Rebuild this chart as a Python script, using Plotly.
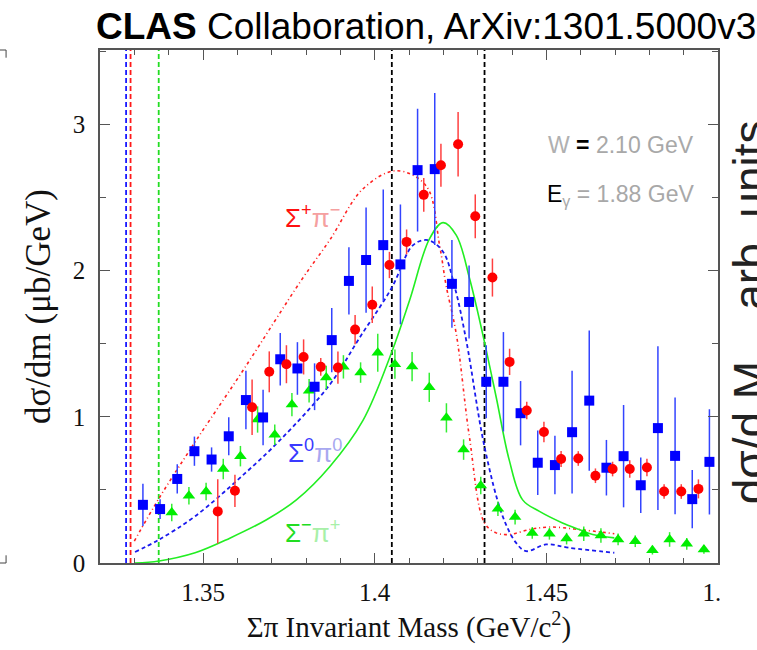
import plotly.graph_objects as go

# ---------------- data ----------------
blue_x = [1.3325, 1.3375, 1.3425, 1.3475, 1.3525, 1.3575, 1.3625, 1.3675, 1.3725, 1.3775,
          1.3825, 1.3875, 1.3925, 1.3975, 1.4025, 1.4075, 1.4125, 1.4175, 1.4225, 1.4275,
          1.4325, 1.4375, 1.4425, 1.4475, 1.4525, 1.4575, 1.4625, 1.4675, 1.4725, 1.4775,
          1.4825, 1.4875, 1.4925, 1.4975]
blue_y = [0.398, 0.369, 0.575, 0.765, 0.708, 0.867, 1.115, 0.996, 1.394, 1.331,
          1.206, 1.525, 1.93, 2.073, 2.175, 2.043, 2.688, 2.695, 1.91, 1.786,
          1.24, 1.24, 1.025, 0.686, 0.67, 0.895, 1.111, 0.652, 0.731, 0.532,
          0.923, 0.733, 0.437, 0.692]
blue_err = [0.145, 0.068, 0.10, 0.10, 0.083, 0.13, 0.20, 0.19, 0.18, 0.18,
            0.16, 0.22, 0.23, 0.36, 0.38, 0.41, 0.42, 0.52, 0.30, 0.25,
            0.25, 0.34, 0.22, 0.22, 0.20, 0.42, 0.48, 0.19, 0.35, 0.19,
            0.56, 0.40, 0.20, 0.36]

red_x = [1.3543, 1.3593, 1.3643, 1.3693, 1.3743, 1.3793, 1.3843, 1.3893, 1.3943, 1.3993,
         1.4043, 1.4093, 1.4143, 1.4193, 1.4243, 1.4293, 1.4343, 1.4393, 1.4443, 1.4493,
         1.4543, 1.4593, 1.4643, 1.4693, 1.4743, 1.4793, 1.4843, 1.4893, 1.4943]
red_y = [0.353, 0.494, 1.066, 1.308, 1.36, 1.41, 1.342, 1.337, 1.597, 1.767,
         2.039, 2.197, 2.519, 2.722, 2.865, 2.372, 1.953, 1.376, 1.043, 0.896,
         0.712, 0.715, 0.597, 0.643, 0.643, 0.654, 0.489, 0.489, 0.507]
red_err = [0.22, 0.11, 0.19, 0.14, 0.13, 0.12, 0.06, 0.11, 0.10, 0.125,
           0.09, 0.085, 0.115, 0.147, 0.22, 0.15, 0.13, 0.09, 0.06, 0.07,
           0.055, 0.05, 0.05, 0.05, 0.06, 0.06, 0.05, 0.05, 0.065]

green_x = [1.3409, 1.3459, 1.3509, 1.3559, 1.3609, 1.3659, 1.3709, 1.3759, 1.3809, 1.3859,
           1.3909, 1.3959, 1.4009, 1.4059, 1.4109, 1.4159, 1.4209, 1.4259, 1.4309, 1.4359,
           1.4409, 1.4459, 1.4509, 1.4559, 1.4609, 1.4659, 1.4709, 1.4759, 1.4809, 1.4859,
           1.4909, 1.4959]
green_y = [0.346, 0.46, 0.489, 0.643, 0.731, 0.982, 0.878, 1.084, 1.179, 1.27,
           1.342, 1.303, 1.439, 1.36, 1.344, 1.202, 0.993, 0.776, 0.53, 0.371,
           0.314, 0.206, 0.2, 0.167, 0.2, 0.188, 0.161, 0.149, 0.088, 0.161,
           0.131, 0.093]
green_err = [0.06, 0.06, 0.06, 0.07, 0.07, 0.09, 0.07, 0.08, 0.08, 0.08,
             0.08, 0.07, 0.13, 0.10, 0.10, 0.10, 0.10, 0.07, 0.06, 0.05,
             0.05, 0.04, 0.04, 0.04, 0.05, 0.05, 0.04, 0.04, 0.03, 0.05,
             0.04, 0.03]

# model curves
red_curve_x = [1.3300, 1.3372, 1.3477, 1.3622, 1.3787, 1.3869, 1.3966, 1.4063, 1.4150, 1.4189,
               1.4208, 1.4238, 1.4276, 1.4320, 1.4354, 1.4392, 1.4451, 1.4509, 1.4596, 1.4698]
red_curve_y = [0.15, 0.443, 0.828, 1.337, 1.937, 2.209, 2.56, 2.684, 2.58, 2.175,
               1.90, 1.563, 0.862, 0.274, 0.206, 0.195, 0.229, 0.246, 0.229, 0.20]

blue_curve_x = [1.3302, 1.3372, 1.3477, 1.3622, 1.3724, 1.3869, 1.3956, 1.4049, 1.4112, 1.4155,
                1.4199, 1.4233, 1.4267, 1.4320, 1.4373, 1.4412, 1.4441, 1.4499, 1.4567, 1.4698]
blue_curve_y = [0.075, 0.16, 0.32, 0.613, 0.84, 1.22, 1.541, 1.88, 2.175, 2.209,
                2.13, 1.89, 1.519, 0.794, 0.319, 0.138, 0.081, 0.127, 0.104, 0.07]

green_curve_x = [1.3302, 1.3372, 1.3477, 1.3578, 1.3685, 1.3772, 1.3869, 1.3966, 1.4049, 1.4102,
                 1.4160, 1.4199, 1.4238, 1.4276, 1.4315, 1.4354, 1.4392, 1.4431, 1.4480, 1.4547,
                 1.4596, 1.4635, 1.4698]
green_curve_y = [0.0, 0.014, 0.07, 0.17, 0.296, 0.432, 0.659, 0.976, 1.439, 1.80,
                 2.22, 2.329, 2.242, 1.95, 1.563, 1.134, 0.704, 0.432, 0.353, 0.274,
                 0.229, 0.195, 0.172]

thresholds_x = [1.3276, 1.3289, 1.3371]
threshold_colors = ["#1a1aff", "#ff1a1a", "#22dd22"]
cut_lines_x = [1.405, 1.432]

x_tickvals = [1.35, 1.40, 1.45, 1.50]
x_ticktext = ["1.35", "1.4", "1.45", "1.5"]
y_tickvals = [0, 1, 2, 3]
y_ticktext = ["0", "1", "2", "3"]

# ---------------- figure ----------------
fig = go.Figure()

fig.add_trace(go.Scatter(x=red_curve_x, y=red_curve_y, mode="lines", line_shape="spline",
                         line=dict(color="#ff2020", width=1.6, dash="3px,3px,1px,3px"),
                         hoverinfo="skip", showlegend=False))
fig.add_trace(go.Scatter(x=blue_curve_x, y=blue_curve_y, mode="lines", line_shape="spline",
                         line=dict(color="#1a1aee", width=1.8, dash="4px,3px"),
                         hoverinfo="skip", showlegend=False))
fig.add_trace(go.Scatter(x=green_curve_x, y=green_curve_y, mode="lines", line_shape="spline",
                         line=dict(color="#22ee22", width=1.6),
                         hoverinfo="skip", showlegend=False))

fig.add_trace(go.Scatter(x=green_x, y=green_y, mode="markers",
                         marker=dict(symbol="triangle-up", size=11, color="#00ee00"),
                         error_y=dict(type="data", array=green_err, color="#33ee33",
                                      thickness=1.5, width=0),
                         showlegend=False))
fig.add_trace(go.Scatter(x=blue_x, y=blue_y, mode="markers",
                         marker=dict(symbol="square", size=10, color="#0000ff"),
                         error_y=dict(type="data", array=blue_err, color="#3344ff",
                                      thickness=1.5, width=0),
                         showlegend=False))
fig.add_trace(go.Scatter(x=red_x, y=red_y, mode="markers",
                         marker=dict(symbol="circle", size=10, color="#ff0000"),
                         error_y=dict(type="data", array=red_err, color="#ff4040",
                                      thickness=1.5, width=0),
                         showlegend=False))

shapes = []
for xv, col in zip(thresholds_x, threshold_colors):
    shapes.append(dict(type="line", xref="x", yref="paper", x0=xv, x1=xv, y0=0, y1=1,
                       line=dict(color=col, width=1.8, dash="5px,3px"), layer="below"))
for xv in cut_lines_x:
    shapes.append(dict(type="line", xref="x", yref="paper", x0=xv, x1=xv, y0=0, y1=1,
                       line=dict(color="black", width=1.8, dash="5px,3px"), layer="below"))
# mask the clipped part of the last tick label
shapes.append(dict(type="rect", xref="paper", yref="paper", x0=1.003, x1=1.2, y0=-0.15, y1=-0.004,
                   fillcolor="white", line=dict(width=0), layer="above"))
# fragments of the neighbouring panel at the left edge
for yp in [1.0, 0.0]:
    shapes.append(dict(type="path", xref="paper", yref="paper",
                       path=f"M -0.1618,{yp} L -0.152,{yp} L -0.152,{yp - 0.015 if yp > 0.5 else yp + 0.015}",
                       line=dict(color="#444", width=1)))

ann = []
ann.append(dict(xref="paper", yref="paper", x=-0.009, y=1.0, xanchor="left", yanchor="bottom",
                yshift=1, showarrow=False,
                text="<b>CLAS</b> Collaboration, ArXiv:1301.5000v3",
                font=dict(family="Liberation Sans, Arial", size=37, color="black")))
ann.append(dict(xref="paper", yref="paper", x=1.052, y=0.489, xanchor="center", yanchor="middle",
                showarrow=False, textangle=-90,
                text="dσ/d M\u00a0\u00a0\u00a0\u00a0arb. units",
                font=dict(family="Liberation Sans, Arial", size=46, color="#222")))
ann.append(dict(xref="paper", yref="paper", x=(546 - 100) / 618, y=(567 - 146) / 517,
                xanchor="left", yanchor="middle", showarrow=False,
                text="<span style='color:#b0b0b0'>W</span> <b>=</b> "
                     "<span style='color:#a8a8a8'>2.10 GeV</span>",
                font=dict(family="Liberation Sans, Arial", size=23, color="black")))
ann.append(dict(xref="paper", yref="paper", x=(545 - 100) / 618, y=(567 - 197) / 517,
                xanchor="left", yanchor="middle", showarrow=False,
                text="E<sub><span style='color:#a8a8a8'>γ</span></sub>"
                     "<span style='color:#a8a8a8'> = 1.88 GeV</span>",
                font=dict(family="Liberation Sans, Arial", size=23, color="black")))
ann.append(dict(x=1.3820, y=(567 - 218) / 147.3, xanchor="center", yanchor="middle",
                showarrow=False,
                text="<span style='color:#ff1010'>Σ<sup>+</sup></span>"
                     "<span style='color:#f5a0a0'>π<sup>−</sup></span>",
                font=dict(family="Liberation Sans, Arial", size=26)))
ann.append(dict(x=1.3826, y=(567 - 455) / 147.3, xanchor="center", yanchor="middle",
                showarrow=False,
                text="<span style='color:#3a3aff'>Σ<sup>0</sup></span>"
                     "<span style='color:#a8a8f0'>π<sup>0</sup></span>",
                font=dict(family="Liberation Sans, Arial", size=26)))
ann.append(dict(x=1.3820, y=(567 - 535) / 147.3, xanchor="center", yanchor="middle",
                showarrow=False,
                text="<span style='color:#22dd22'>Σ<sup>−</sup></span>"
                     "<span style='color:#a8f0a8'>π<sup>+</sup></span>",
                font=dict(family="Liberation Sans, Arial", size=26)))

serif = "Liberation Serif, Times New Roman, serif"
axis_col = "#555555"

fig.update_layout(
    width=757, height=650,
    margin=dict(l=100, r=39, t=50, b=83),
    paper_bgcolor="white", plot_bgcolor="white",
    shapes=shapes, annotations=ann,
    xaxis=dict(range=[1.32, 1.50], tickmode="array", tickvals=x_tickvals, ticktext=x_ticktext,
               ticks="inside", ticklen=10, tickwidth=1.3, tickcolor=axis_col,
               minor=dict(tickmode="linear", tick0=1.32, dtick=0.01, ticks="inside",
                          ticklen=5, tickwidth=1.1, tickcolor=axis_col),
               showline=True, linecolor=axis_col, linewidth=1.5, mirror="allticks",
               showgrid=False, zeroline=False, ticklabelstandoff=6,
               tickfont=dict(family=serif, size=25, color="#111"),
               title=dict(text="Σπ Invariant Mass (GeV/c<sup>2</sup>)",
                          font=dict(family=serif, size=29, color="#111"), standoff=12)),
    yaxis=dict(range=[0, 3.51], tickmode="array", tickvals=y_tickvals, ticktext=y_ticktext,
               ticks="inside", ticklen=10, tickwidth=1.3, tickcolor=axis_col,
               minor=dict(tickmode="linear", tick0=0, dtick=0.5, ticks="inside",
                          ticklen=6, tickwidth=1.1, tickcolor=axis_col),
               showline=True, linecolor=axis_col, linewidth=1.5, mirror="allticks",
               showgrid=False, zeroline=False, ticklabelstandoff=8,
               tickfont=dict(family=serif, size=25, color="#111"),
               title=dict(text="dσ/dm (μb/GeV)",
                          font=dict(family=serif, size=35, color="#111"), standoff=12)),
)

fig.write_html("out.html")
